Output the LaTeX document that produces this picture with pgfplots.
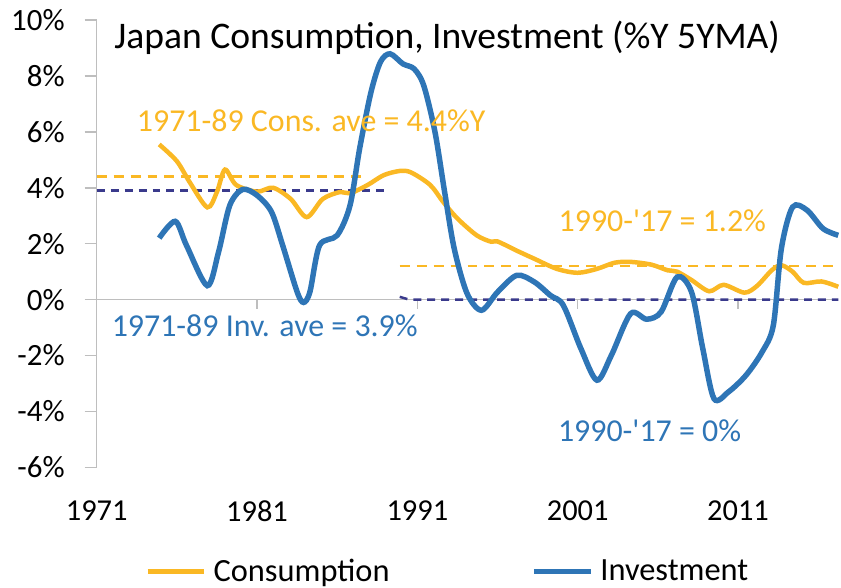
\documentclass[border=0pt]{standalone}
\usepackage{pgfplots}
\pgfplotsset{compat=1.18}
\usepackage{fontspec}
\setmainfont{Carlito}
\definecolor{consc}{RGB}{250,184,36}
\definecolor{invc}{RGB}{46,117,182}
\definecolor{navyc}{RGB}{58,58,140}
\definecolor{axisgray}{RGB}{190,190,190}
\begin{document}
\begin{tikzpicture}
\begin{axis}[
  at={(0pt,0pt)}, anchor=south west,
  scale only axis,
  width=744bp, height=449bp,
  xmin=1971, xmax=2017.25,
  ymin=-6, ymax=10,
  axis lines=left,
  axis line style={-, draw=axisgray, line width=1.5bp},
  x axis line style={draw=none},
  xtick={1971,1981,1991,2001,2011},
  xticklabels={1971,1981,1991,2001,2011},
  x tick style={draw=none},
  xticklabel style={anchor=north, inner sep=0pt, yshift=-21bp, font=\fontsize{30.5bp}{36bp}\selectfont},
  ytick={-6,-4,-2,0,2,4,6,8,10},
  yticklabels={-6\%,-4\%,-2\%,0\%,2\%,4\%,6\%,8\%,10\%},
  y tick style={draw=axisgray, line width=1.5bp},
  tick align=outside,
  major tick length=12bp,
  yticklabel style={anchor=east, inner sep=0pt, xshift=-20bp, font=\fontsize{31bp}{36bp}\selectfont},
  legend style={at={(0.4734,-0.232)}, anchor=center, draw=none, fill=none,
    inner sep=0pt, nodes={inner ysep=1bp},
    legend columns=2, font=\fontsize{32.5bp}{38bp}\selectfont,
    /tikz/every odd column/.append style={column sep=5bp},
    /tikz/every even column/.append style={column sep=140bp}},
  legend image code/.code={\draw[#1] (0bp,0bp) -- (57bp,0bp);},
  clip=false,
]
% averages
\addplot[forget plot, consc, line width=2.5bp, dash pattern=on 10bp off 7bp] coordinates {(1971,4.4) (1987.9,4.4)};
\addplot[forget plot, navyc, line width=2.5bp, dash pattern=on 8bp off 6bp] coordinates {(1971,3.9) (1989.1,3.9)};
\addplot[forget plot, consc, line width=2.5bp, dash pattern=on 10bp off 7bp] coordinates {(1989.9,1.2) (2017.25,1.2)};
\draw[axisgray, line width=1.5bp] (axis cs:1971,0) -- (axis cs:2017.25,0);
\pgfplotsinvokeforeach{1981,1991,2001,2011}{\draw[axisgray, line width=1.5bp] (axis cs:#1,0) -- ++(0pt,-9bp);}
\addplot[forget plot, navyc, line width=2.5bp, dash pattern=on 8bp off 6bp] coordinates {(1989.9,0.1) (1990.5,0) (2017.25,0)};
% Consumption
\addplot[consc, line width=4.5bp, smooth, tension=0.5] coordinates {
(1974.9,5.55) (1976.0,4.95) (1976.8,4.2) (1977.9,3.3) (1978.5,3.85) (1979.0,4.65)
(1979.7,4.1) (1981.0,3.86) (1982.0,4.0) (1983.1,3.6) (1984.1,2.95) (1985.1,3.6)
(1986.2,3.85) (1986.8,3.8) (1987.9,4.1) (1988.9,4.45) (1989.9,4.6) (1990.6,4.55)
(1991.8,4.1) (1992.6,3.5) (1993.5,2.9) (1994.7,2.3) (1995.6,2.07) (1996.0,2.08)
(1997.2,1.75) (1998.3,1.46) (1999.7,1.1) (2001.0,0.96) (2002.2,1.1) (2003.3,1.32)
(2004.3,1.35) (2005.6,1.25) (2006.6,1.05) (2007.2,1.0) (2008.1,0.7) (2009.2,0.3)
(2010.1,0.53) (2011.4,0.25) (2012.2,0.5) (2013.1,1.05) (2013.7,1.23) (2014.4,1.0)
(2015.1,0.6) (2016.2,0.65) (2017.25,0.46)};
\addlegendentry{Consumption}
% Investment
\addplot[invc, line width=5.5bp, smooth, tension=0.5] coordinates {
(1974.9,2.2) (1975.9,2.8) (1976.6,1.94) (1977.9,0.5) (1978.6,1.7) (1979.3,3.37)
(1980.1,3.94) (1981.0,3.73) (1981.9,3.14) (1982.6,1.94) (1983.5,0.28) (1983.9,-0.1)
(1984.3,0.28) (1984.9,1.94) (1986.0,2.3) (1986.8,3.37) (1987.4,5.4) (1988.1,7.4)
(1988.7,8.5) (1989.3,8.79) (1990.1,8.43) (1990.8,8.25) (1991.4,7.65) (1992.1,5.99)
(1992.7,3.85) (1993.3,1.82) (1994.1,0.22) (1995.0,-0.38) (1996.0,0.27) (1997.2,0.87)
(1998.3,0.63) (1999.3,0.15) (2000.1,-0.2) (2001.2,-1.75) (2002.2,-2.88) (2003.1,-1.99)
(2004.3,-0.5) (2005.3,-0.7) (2006.2,-0.44) (2007.2,0.81) (2008.1,0.27) (2008.8,-1.75)
(2009.5,-3.54) (2010.4,-3.3) (2011.5,-2.7) (2012.5,-1.87) (2013.2,-0.92) (2013.7,1.82)
(2014.4,3.31) (2015.3,3.2) (2016.3,2.54) (2017.25,2.3)};
\addlegendentry{Investment}
% annotations
\node[anchor=west, inner sep=0pt, font=\fontsize{37.7bp}{44bp}\selectfont] at (axis cs:1972.09,9.37) {Japan Consumption, Investment (\%Y 5YMA)};
\node[anchor=west, inner sep=0pt, text=consc, font=\fontsize{32bp}{38bp}\selectfont] at (axis cs:1973.5,6.38) {1971-89 Cons. ave = 4.4\%Y};
\node[anchor=west, inner sep=0pt, text=consc, font=\fontsize{32bp}{38bp}\selectfont] at (axis cs:1999.8,2.82) {1990-\textquotesingle17 = 1.2\%};
\node[anchor=west, inner sep=0pt, text=invc, font=\fontsize{32bp}{38bp}\selectfont] at (axis cs:1971.93,-0.93) {1971-89 Inv. ave = 3.9\%};
\node[anchor=west, inner sep=0pt, text=invc, font=\fontsize{32bp}{38bp}\selectfont] at (axis cs:1999.76,-4.67) {1990-\textquotesingle17 = 0\%};
\end{axis}
\path (-97bp,-120bp) rectangle (744bp,469bp);
\end{tikzpicture}
\end{document}
